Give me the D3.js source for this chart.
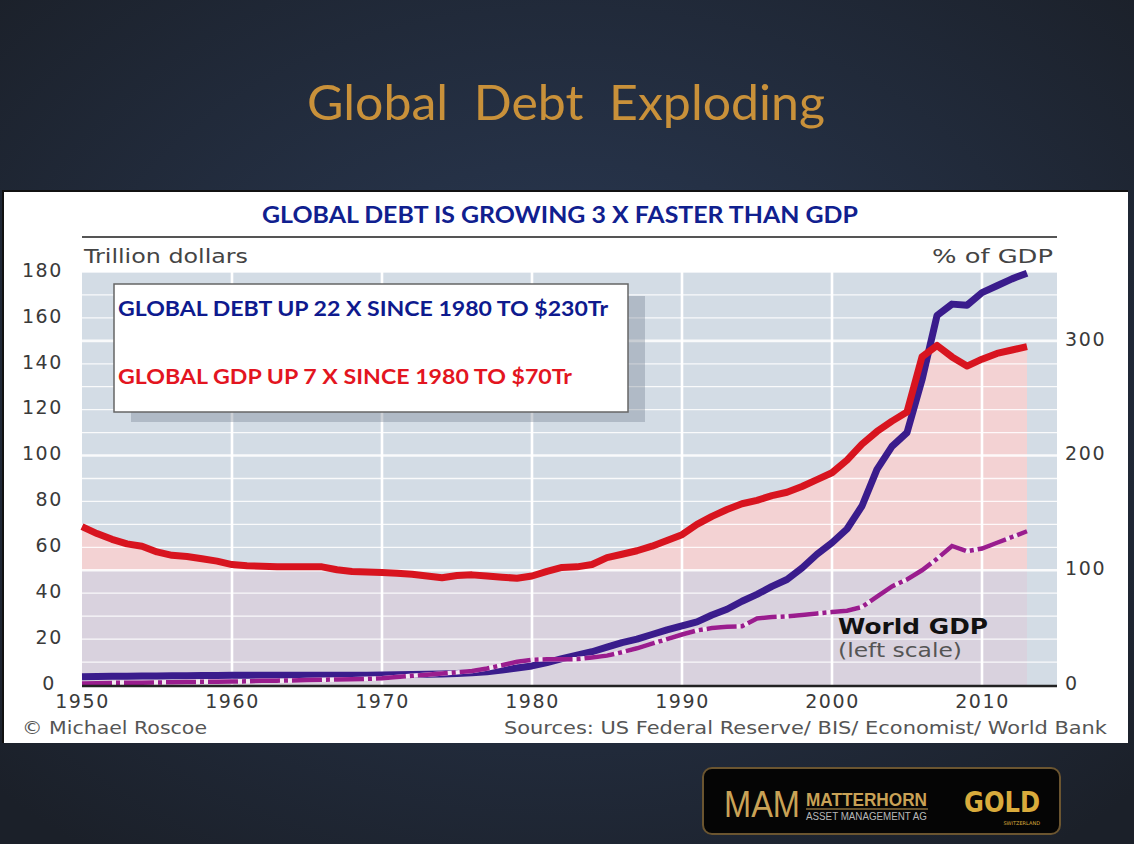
<!DOCTYPE html>
<html lang="en">
<head>
<meta charset="UTF-8">
<title>Global Debt Exploding</title>
<script src="https://d3js.org/d3.v7.min.js"></script>
<style>
  body { margin: 0; background: #1d2330; }
  svg { display: block; }
  .tick text { font-family: "DejaVu Sans", sans-serif; fill: #3a3a3a; }
</style>
</head>
<body>
<script>
// years shown in the chart
const years = d3.range(1950, 2014);

// global debt, trillion dollars (left scale)
const debt = [
  3.6, 3.7, 3.8, 3.8, 3.9, 3.9, 4.0, 4.0, 4.1, 4.1,
  4.2, 4.2, 4.2, 4.2, 4.2, 4.2, 4.2, 4.2, 4.3, 4.3,
  4.4, 4.5, 4.6, 4.7, 4.8, 5.0, 5.3, 5.8, 6.5, 7.4,
  8.3, 9.8, 11.5, 13, 14.5, 16.5, 18.5, 20, 22, 24,
  25.8, 27.5, 30.5, 33, 36.5, 39.5, 43, 46, 51, 57,
  62, 68, 78, 94, 104, 110, 133, 161, 166, 165.5,
  171, 174, 177, 179.5
];

// global debt as % of GDP (right scale)
const debtPct = [
  138, 132, 127, 123, 121, 116, 113, 112, 110, 108,
  105, 104, 103.5, 103, 103, 103, 103, 100.5, 99, 98.5,
  98, 97.5, 96.5, 95, 93.5, 95.5, 96, 95, 94, 93,
  95, 99, 102.5, 103, 105, 111, 114, 117, 121, 126,
  131, 140, 147, 153, 158, 161, 165, 168, 173, 179,
  185, 196, 210, 221, 230, 238, 286, 296, 286, 278,
  284, 289, 292, 295
];

// world GDP, trillion dollars (left scale)
const gdp = [
  0.7, 0.8, 0.9, 1.0, 1.0, 1.1, 1.2, 1.3, 1.4, 1.4,
  1.5, 1.6, 1.8, 1.9, 2.0, 2.2, 2.3, 2.4, 2.5, 2.7,
  2.9, 3.5, 4.0, 4.5, 5.0, 5.5, 6.1, 7.2, 8.6, 10.1,
  11, 11.2, 11.2, 11.3, 12, 12.8, 14.3, 16, 18, 20,
  22, 23.8, 24.8, 25.4, 25.6, 29, 29.6, 29.9, 30.5, 31.2,
  31.8, 32.4, 34, 38.5, 43, 46, 50, 55, 60.6, 58.3,
  59.5, 62, 64.5, 67
];

const leftTicks = [0, 20, 40, 60, 80, 100, 120, 140, 160, 180];
const rightTicks = [0, 100, 200, 300];
const yearTicks = [1950, 1960, 1970, 1980, 1990, 2000, 2010];

const headline = "Global  Debt  Exploding";
const chartTitle = "GLOBAL DEBT IS GROWING 3 X FASTER THAN GDP";
const noteDebt = "GLOBAL DEBT UP 22 X SINCE 1980 TO $230Tr";
const noteGdp = "GLOBAL GDP UP 7 X SINCE 1980 TO $70Tr";

const width = 1134, height = 844;
const rows = years.map((yr, i) => ({year: yr, debt: debt[i], pct: debtPct[i], gdp: gdp[i]}));

const svg = d3.select("body").append("svg")
  .attr("width", width).attr("height", height);

// slide background
const defs = svg.append("defs");
const bg = defs.append("radialGradient").attr("id", "bg")
  .attr("cx", "50%").attr("cy", "45%").attr("r", "70%");
bg.append("stop").attr("offset", "0%").attr("stop-color", "#2b3b57");
bg.append("stop").attr("offset", "100%").attr("stop-color", "#1b2029");
svg.append("rect").attr("width", width).attr("height", height).attr("fill", "url(#bg)");

svg.append("text")
  .attr("x", 566).attr("y", 120)
  .attr("text-anchor", "middle")
  .attr("font-family", "Lato, sans-serif")
  .attr("font-size", 48)
  .attr("fill", "#c9913a")
  .attr("textLength", 518).attr("lengthAdjust", "spacingAndGlyphs")
  .style("white-space", "pre")
  .text(headline);

// white chart panel
svg.append("rect").attr("x", 3).attr("y", 191).attr("width", 1125).attr("height", 552)
  .attr("fill", "#ffffff");
svg.append("path").attr("d", "M3,743V191H1128").attr("fill", "none")
  .attr("stroke", "#111").attr("stroke-width", 2);

// scales
const x = d3.scaleLinear().domain([1950, 2015]).range([82, 1057]);
const yL = d3.scaleLinear().domain([0, 180]).range([685, 272]);
const yR = d3.scaleLinear().domain([0, 360]).range([685, 272]);

const plot = svg.append("g");
plot.append("rect")
  .attr("x", x(1950)).attr("y", yL(180))
  .attr("width", x(2015) - x(1950)).attr("height", yL(0) - yL(180))
  .attr("fill", "#d3dce5");

// lower band (0-100% of GDP) and pink band above 100%
plot.append("path").datum(rows)
  .attr("fill", "#d9d2de")
  .attr("d", d3.area().x(d => x(d.year)).y0(yR(0)).y1(d => yR(Math.min(d.pct, 100))));
plot.append("path").datum(rows)
  .attr("fill", "#f3d2d3")
  .attr("d", d3.area().x(d => x(d.year)).y0(yR(100)).y1(d => yR(Math.max(d.pct, 100))));

// grid
plot.append("g").selectAll("line")
  .data(d3.range(10, 181, 10))
  .join("line")
  .attr("x1", x(1950)).attr("x2", x(2015))
  .attr("y1", d => yL(d)).attr("y2", d => yL(d))
  .attr("stroke", "#ffffff")
  .attr("stroke-opacity", 0.85)
  .attr("stroke-width", d => d % 50 === 0 ? 2.6 : 1.3);
plot.append("g").selectAll("line")
  .data(yearTicks.slice(1))
  .join("line")
  .attr("x1", d => x(d)).attr("x2", d => x(d))
  .attr("y1", yL(180)).attr("y2", yL(0))
  .attr("stroke", "#ffffff").attr("stroke-width", 2.6);

// top rule
svg.append("line").attr("x1", x(1950)).attr("x2", x(2015))
  .attr("y1", 237).attr("y2", 237).attr("stroke", "#555").attr("stroke-width", 2);

// axes
const axL = svg.append("g").attr("transform", "translate(63,-2)")
  .call(d3.axisLeft(yL).tickValues(leftTicks).tickSize(0).tickPadding(0));
const axR = svg.append("g").attr("transform", "translate(1065,-2)")
  .call(d3.axisRight(yR).tickValues(rightTicks).tickSize(0).tickPadding(0));
const axB = svg.append("g").attr("transform", "translate(0,694)")
  .call(d3.axisBottom(x).tickValues(yearTicks).tickFormat(d3.format("d")).tickSize(0).tickPadding(0));
[axL, axR, axB].forEach(a => {
  a.select(".domain").remove();
  a.selectAll("text").attr("font-size", 19).style("letter-spacing", "1.6px");
});
axL.selectAll("text").attr("dy", "0.33em");
axR.selectAll("text").attr("dy", "0.33em");
axB.selectAll("text").attr("dy", "0.72em");
// keep the zero label clear of the first year label
axL.selectAll(".tick").filter(d => d === 0).select("text").attr("x", -7);

// lines
const debtLine = d3.line().x(d => x(d.year)).y(d => yL(d.debt));
const pctLine = d3.line().x(d => x(d.year)).y(d => yR(d.pct));
const gdpLine = d3.line().x(d => x(d.year)).y(d => yL(d.gdp));

plot.append("path").datum(rows).attr("d", debtLine)
  .attr("fill", "none").attr("stroke", "#3a1c8c").attr("stroke-width", 7)
  .attr("stroke-linejoin", "round");
plot.append("path").datum(rows).attr("d", pctLine)
  .attr("fill", "none").attr("stroke", "#d8141f").attr("stroke-width", 7)
  .attr("stroke-linejoin", "round");
plot.append("path").datum(rows).attr("d", gdpLine)
  .attr("fill", "none").attr("stroke", "#f4eaf2").attr("stroke-width", 4.5);
plot.append("path").datum(rows).attr("d", gdpLine)
  .attr("fill", "none").attr("stroke", "#9a1d8e").attr("stroke-width", 4.5)
  .attr("stroke-dasharray", "30,4,4,4");

svg.append("line").attr("x1", x(1950)).attr("x2", x(2015))
  .attr("y1", 686).attr("y2", 686).attr("stroke", "#222").attr("stroke-width", 2.5);

// chart texts
const gothic = "DejaVu Sans, sans-serif";
function label(tx, ty, str, size, len, opts = {}) {
  return svg.append("text").attr("x", tx).attr("y", ty)
    .attr("text-anchor", opts.anchor || "start")
    .attr("font-family", gothic).attr("font-size", size)
    .attr("font-weight", opts.bold ? "bold" : "normal")
    .attr("fill", opts.fill || "#444")
    .attr("textLength", len).attr("lengthAdjust", "spacingAndGlyphs")
    .text(str);
}
label(84, 263, "Trillion dollars", 20, 164);
label(1053, 263, "% of GDP", 20, 121, {anchor: "end"});
label(838, 634, "World GDP", 21, 150, {bold: true, fill: "#111"});
label(838, 657, "(left scale)", 19, 124, {fill: "#555"});
label(22, 734, "\u00a9 Michael Roscoe", 18, 185, {fill: "#555"});
label(1107, 734, "Sources: US Federal Reserve/ BIS/ Economist/ World Bank", 18, 603,
      {anchor: "end", fill: "#555"});

svg.append("text").attr("x", 560).attr("y", 223).attr("text-anchor", "middle")
  .attr("font-family", "Lato, sans-serif").attr("font-weight", "bold").attr("font-size", 22)
  .attr("fill", "#10208f")
  .attr("textLength", 596).attr("lengthAdjust", "spacingAndGlyphs")
  .text(chartTitle);

// note box with shadow
svg.append("rect").attr("x", 131).attr("y", 296).attr("width", 514).attr("height", 126)
  .attr("fill", "#6f7b8c").attr("fill-opacity", 0.35);
svg.append("rect").attr("x", 114).attr("y", 284).attr("width", 514).attr("height", 128)
  .attr("fill", "#ffffff").attr("stroke", "#666").attr("stroke-width", 1.5);
svg.append("text").attr("x", 118).attr("y", 316)
  .attr("font-family", "Lato, sans-serif").attr("font-weight", "bold").attr("font-size", 21)
  .attr("fill", "#0e1a8e")
  .attr("textLength", 490).attr("lengthAdjust", "spacingAndGlyphs")
  .text(noteDebt);
svg.append("text").attr("x", 118).attr("y", 384)
  .attr("font-family", "Lato, sans-serif").attr("font-weight", "bold").attr("font-size", 21)
  .attr("fill", "#e3151f")
  .attr("textLength", 454).attr("lengthAdjust", "spacingAndGlyphs")
  .text(noteGdp);

// logo
const logo = svg.append("g");
logo.append("rect").attr("x", 703).attr("y", 768).attr("width", 357).attr("height", 66).attr("rx", 9)
  .attr("fill", "#050505").attr("stroke", "#6b5530").attr("stroke-width", 2);
logo.append("text").attr("x", 724).attr("y", 817)
  .attr("font-family", "Liberation Sans Narrow, Liberation Sans, sans-serif").attr("font-size", 36)
  .attr("fill", "#c9a256")
  .attr("textLength", 76).attr("lengthAdjust", "spacingAndGlyphs")
  .text("MAM");
logo.append("text").attr("x", 806).attr("y", 806)
  .attr("font-family", "Liberation Sans Narrow, Liberation Sans, sans-serif").attr("font-weight", "bold")
  .attr("font-size", 19).attr("fill", "#c9a256")
  .attr("textLength", 121).attr("lengthAdjust", "spacingAndGlyphs")
  .text("MATTERHORN");
logo.append("line").attr("x1", 806).attr("x2", 928).attr("y1", 809).attr("y2", 809)
  .attr("stroke", "#c9a256").attr("stroke-width", 1.2);
logo.append("text").attr("x", 806).attr("y", 820)
  .attr("font-family", "Liberation Sans Narrow, Liberation Sans, sans-serif")
  .attr("font-size", 10).attr("fill", "#b8b8b8")
  .attr("textLength", 121).attr("lengthAdjust", "spacingAndGlyphs")
  .text("ASSET MANAGEMENT AG");
logo.append("text").attr("x", 964).attr("y", 812)
  .attr("font-family", "DejaVu Sans, sans-serif").attr("font-weight", "bold")
  .attr("font-size", 28).attr("fill", "#d9ab3c")
  .attr("textLength", 76).attr("lengthAdjust", "spacingAndGlyphs")
  .text("GOLD");
logo.append("text").attr("x", 1040).attr("y", 825).attr("text-anchor", "end")
  .attr("font-family", "DejaVu Sans, sans-serif")
  .attr("font-size", 5).attr("fill", "#d9ab3c")
  .text("SWITZERLAND");
</script>
</body>
</html>
